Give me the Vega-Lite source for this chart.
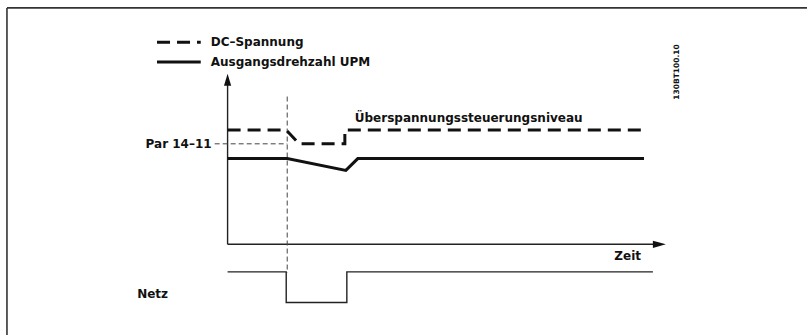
{
  "$schema": "https://vega.github.io/schema/vega-lite/v6.json",
  "width": 808,
  "height": 336,
  "padding": 0,
  "autosize": {"type": "fit", "contains": "padding"},
  "background": "white",
  "config": {"view": {"stroke": null}, "axis": {"disable": true}},
  "layer": [
    {
      "data": {"values": [
        {"x": 7, "y": 8, "x2": 7, "y2": 340},
        {"x": 7, "y": 8, "x2": 812, "y2": 8}
      ]},
      "mark": {"type": "rule", "stroke": "#333", "strokeWidth": 1.6},
      "encoding": {
        "x": {"field": "x", "type": "quantitative", "scale": {"domain": [0, 808], "nice": false, "zero": false}, "axis": null},
        "y": {"field": "y", "type": "quantitative", "scale": {"domain": [0, 336], "reverse": true, "nice": false, "zero": false}, "axis": null},
        "x2": {"field": "x2"},
        "y2": {"field": "y2"}
      }
    },
    {
      "data": {"values": [
        {"x": 229, "y": 84, "x2": 229, "y2": 248},
        {"x": 229, "y": 248, "x2": 660, "y2": 248}
      ]},
      "mark": {"type": "rule", "stroke": "#222", "strokeWidth": 1.4},
      "encoding": {
        "x": {"field": "x", "type": "quantitative", "scale": {"domain": [0, 808], "nice": false, "zero": false}, "axis": null},
        "y": {"field": "y", "type": "quantitative", "scale": {"domain": [0, 336], "reverse": true, "nice": false, "zero": false}, "axis": null},
        "x2": {"field": "x2"},
        "y2": {"field": "y2"}
      }
    },
    {
      "data": {"values": [{"x": 229, "y": 81}]},
      "mark": {"type": "point", "filled": true, "color": "#111", "opacity": 1, "size": 144, "shape": "M-0.6,1L0.6,1L0,-1Z"},
      "encoding": {
        "x": {"field": "x", "type": "quantitative", "scale": {"domain": [0, 808], "nice": false, "zero": false}, "axis": null},
        "y": {"field": "y", "type": "quantitative", "scale": {"domain": [0, 336], "reverse": true, "nice": false, "zero": false}, "axis": null}
      }
    },
    {
      "data": {"values": [{"x": 663.5, "y": 248}]},
      "mark": {"type": "point", "filled": true, "color": "#111", "opacity": 1, "size": 169, "shape": "M-1,-0.55L1,0L-1,0.55Z"},
      "encoding": {
        "x": {"field": "x", "type": "quantitative", "scale": {"domain": [0, 808], "nice": false, "zero": false}, "axis": null},
        "y": {"field": "y", "type": "quantitative", "scale": {"domain": [0, 336], "reverse": true, "nice": false, "zero": false}, "axis": null}
      }
    },
    {
      "data": {"values": [
        {"x": 289, "y": 98, "x2": 289, "y2": 277},
        {"x": 216, "y": 146, "x2": 289, "y2": 146}
      ]},
      "mark": {"type": "rule", "stroke": "#444", "strokeWidth": 1, "strokeDash": [5, 3]},
      "encoding": {
        "x": {"field": "x", "type": "quantitative", "scale": {"domain": [0, 808], "nice": false, "zero": false}, "axis": null},
        "y": {"field": "y", "type": "quantitative", "scale": {"domain": [0, 336], "reverse": true, "nice": false, "zero": false}, "axis": null},
        "x2": {"field": "x2"},
        "y2": {"field": "y2"}
      }
    },
    {
      "data": {"values": [
        {"s": "dc", "o": 1, "x": 229, "y": 132},
        {"s": "dc", "o": 2, "x": 288, "y": 132},
        {"s": "dc", "o": 3, "x": 301, "y": 146},
        {"s": "dc", "o": 4, "x": 347, "y": 146},
        {"s": "dc", "o": 5, "x": 347, "y": 132},
        {"s": "dc", "o": 6, "x": 648, "y": 132},
        {"s": "leg", "o": 1, "x": 158, "y": 43},
        {"s": "leg", "o": 2, "x": 202, "y": 43}
      ]},
      "mark": {"type": "line", "stroke": "#111", "strokeWidth": 3, "strokeDash": [13, 7], "strokeCap": "butt"},
      "encoding": {
        "x": {"field": "x", "type": "quantitative", "scale": {"domain": [0, 808], "nice": false, "zero": false}, "axis": null},
        "y": {"field": "y", "type": "quantitative", "scale": {"domain": [0, 336], "reverse": true, "nice": false, "zero": false}, "axis": null},
        "detail": {"field": "s"},
        "order": {"field": "o"}
      }
    },
    {
      "data": {"values": [
        {"s": "rpm", "o": 1, "x": 229, "y": 161},
        {"s": "rpm", "o": 2, "x": 289, "y": 161},
        {"s": "rpm", "o": 3, "x": 348, "y": 173},
        {"s": "rpm", "o": 4, "x": 360, "y": 161},
        {"s": "rpm", "o": 5, "x": 648, "y": 161},
        {"s": "leg", "o": 1, "x": 158, "y": 63},
        {"s": "leg", "o": 2, "x": 202, "y": 63}
      ]},
      "mark": {"type": "line", "stroke": "#111", "strokeWidth": 3},
      "encoding": {
        "x": {"field": "x", "type": "quantitative", "scale": {"domain": [0, 808], "nice": false, "zero": false}, "axis": null},
        "y": {"field": "y", "type": "quantitative", "scale": {"domain": [0, 336], "reverse": true, "nice": false, "zero": false}, "axis": null},
        "detail": {"field": "s"},
        "order": {"field": "o"}
      }
    },
    {
      "data": {"values": [
        {"o": 1, "x": 229, "y": 276},
        {"o": 2, "x": 288, "y": 276},
        {"o": 3, "x": 288, "y": 307},
        {"o": 4, "x": 349, "y": 307},
        {"o": 5, "x": 349, "y": 276},
        {"o": 6, "x": 657, "y": 276}
      ]},
      "mark": {"type": "line", "stroke": "#222", "strokeWidth": 1.4},
      "encoding": {
        "x": {"field": "x", "type": "quantitative", "scale": {"domain": [0, 808], "nice": false, "zero": false}, "axis": null},
        "y": {"field": "y", "type": "quantitative", "scale": {"domain": [0, 336], "reverse": true, "nice": false, "zero": false}, "axis": null},
        "order": {"field": "o"}
      }
    },
    {
      "data": {"values": [
        {"x": 212, "y": 43, "t": "DC–Spannung"},
        {"x": 212, "y": 63, "t": "Ausgangsdrehzahl UPM"},
        {"x": 357, "y": 120, "t": "Überspannungssteuerungsniveau"},
        {"x": 138, "y": 298, "t": "Netz"}
      ]},
      "mark": {"type": "text", "align": "left", "baseline": "middle", "font": "DejaVu Sans", "fontSize": 12, "fontWeight": "bold", "color": "#111"},
      "encoding": {
        "x": {"field": "x", "type": "quantitative", "scale": {"domain": [0, 808], "nice": false, "zero": false}, "axis": null},
        "y": {"field": "y", "type": "quantitative", "scale": {"domain": [0, 336], "reverse": true, "nice": false, "zero": false}, "axis": null},
        "text": {"field": "t"}
      }
    },
    {
      "data": {"values": [
        {"x": 213, "y": 146, "t": "Par 14–11"},
        {"x": 645, "y": 260, "t": "Zeit"}
      ]},
      "mark": {"type": "text", "align": "right", "baseline": "middle", "font": "DejaVu Sans", "fontSize": 12, "fontWeight": "bold", "color": "#111"},
      "encoding": {
        "x": {"field": "x", "type": "quantitative", "scale": {"domain": [0, 808], "nice": false, "zero": false}, "axis": null},
        "y": {"field": "y", "type": "quantitative", "scale": {"domain": [0, 336], "reverse": true, "nice": false, "zero": false}, "axis": null},
        "text": {"field": "t"}
      }
    },
    {
      "data": {"values": [{"x": 681, "y": 73, "t": "130BT100.10"}]},
      "mark": {"type": "text", "align": "center", "baseline": "middle", "angle": 270, "font": "DejaVu Sans", "fontSize": 7.5, "fontWeight": "bold", "color": "#111"},
      "encoding": {
        "x": {"field": "x", "type": "quantitative", "scale": {"domain": [0, 808], "nice": false, "zero": false}, "axis": null},
        "y": {"field": "y", "type": "quantitative", "scale": {"domain": [0, 336], "reverse": true, "nice": false, "zero": false}, "axis": null},
        "text": {"field": "t"}
      }
    }
  ]
}
